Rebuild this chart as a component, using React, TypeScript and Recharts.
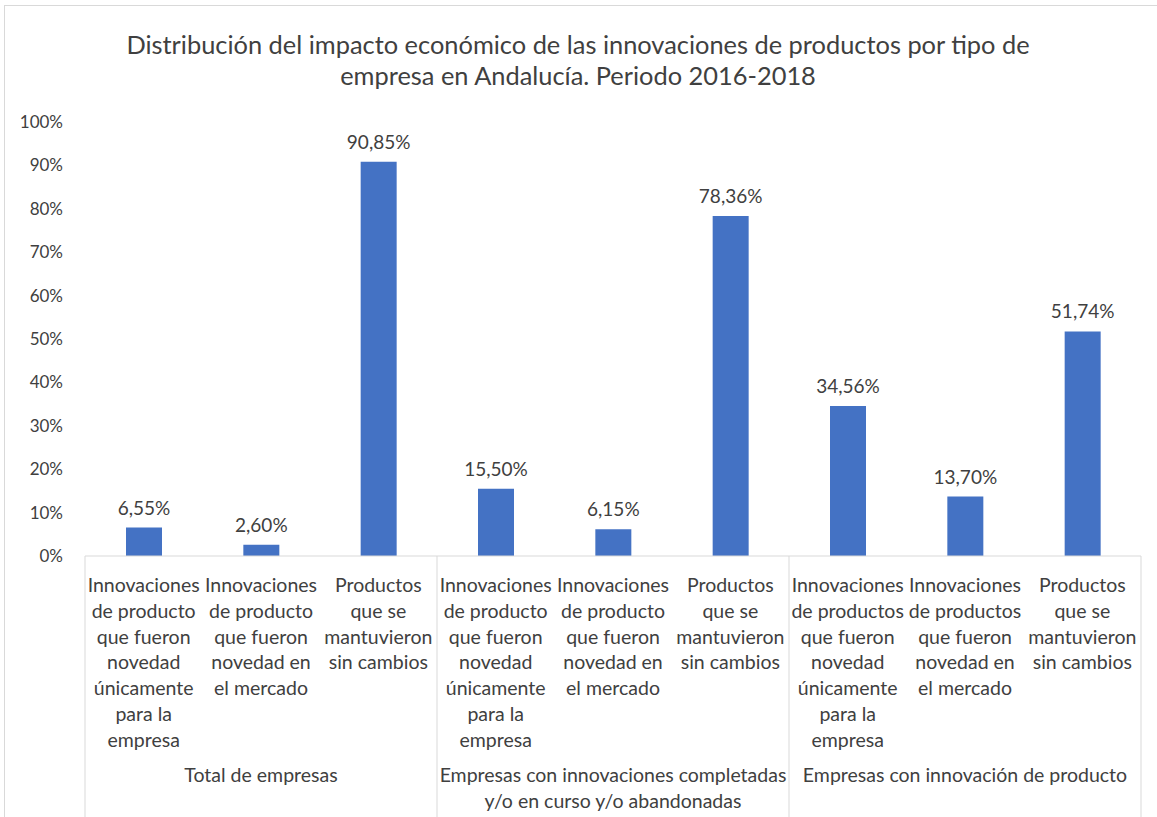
import React from "react";
import { BarChart, Bar, XAxis, YAxis, LabelList, Customized } from "recharts";

const categories = [
  "Innovaciones\nde producto\nque fueron\nnovedad\núnicamente\npara la\nempresa",
  "Innovaciones\nde producto\nque fueron\nnovedad en\nel mercado",
  "Productos\nque se\nmantuvieron\nsin cambios",
  "Innovaciones\nde producto\nque fueron\nnovedad\núnicamente\npara la\nempresa",
  "Innovaciones\nde producto\nque fueron\nnovedad en\nel mercado",
  "Productos\nque se\nmantuvieron\nsin cambios",
  "Innovaciones\nde productos\nque fueron\nnovedad\núnicamente\npara la\nempresa",
  "Innovaciones\nde productos\nque fueron\nnovedad en\nel mercado",
  "Productos\nque se\nmantuvieron\nsin cambios",
];

const groups = [
  "Total de empresas",
  "Empresas con innovaciones completadas\ny/o en curso y/o abandonadas",
  "Empresas con innovación de producto",
];

const values = [6.55, 2.6, 90.85, 15.5, 6.15, 78.36, 34.56, 13.7, 51.74];
const yTicks = [0, 10, 20, 30, 40, 50, 60, 70, 80, 90, 100];

const data = categories.map((name, i) => ({ key: i, name, value: values[i] }));

const W = 1157;
const H = 817;
const PLOT_LEFT = 85;
const PLOT_RIGHT = 1141;
const PLOT_TOP = 122;
const PLOT_BOTTOM = 556;
const FONT = "Lato, sans-serif";
const TEXT = "#404040";
const GRID = "#d9d9d9";
const CAT_FS = 19.5;
const LABEL_FS = 19;
const TICK_FS = 17;

const band = (PLOT_RIGHT - PLOT_LEFT) / categories.length;
const pct = (v: number) => v.toFixed(2).replace(".", ",") + "%";

function CategoryTick(props: any) {
  const { x, y, payload, index } = props;
  const lines = String(categories[index] ?? payload.value).split("\n");
  const inGroup = index % 3;
  const groupIdx = Math.floor(index / 3);
  return (
    <g>
      <text x={x} y={y + 28} textAnchor="middle" fill={TEXT} fontSize={CAT_FS} fontFamily={FONT}>
        {lines.map((l, i) => (
          <tspan key={i} x={x} dy={i === 0 ? 0 : 25.8}>
            {l}
          </tspan>
        ))}
      </text>
      {inGroup === 0 && (
        <line x1={x - band / 2} x2={x - band / 2} y1={PLOT_BOTTOM} y2={H} stroke={GRID} />
      )}
      {index === categories.length - 1 && (
        <line x1={x + band / 2} x2={x + band / 2} y1={PLOT_BOTTOM} y2={H} stroke={GRID} />
      )}
      {inGroup === 1 && (
        <text x={x} y={y + 218} textAnchor="middle" fill={TEXT} fontSize={CAT_FS} fontFamily={FONT}>
          {groups[groupIdx].split("\n").map((l, i) => (
            <tspan key={i} x={x} dy={i === 0 ? 0 : 25.8}>
              {l}
            </tspan>
          ))}
        </text>
      )}
    </g>
  );
}

function PercentTick(props: any) {
  const { y, payload } = props;
  return (
    <text x={63} y={y + 6} textAnchor="end" fill={TEXT} fontSize={TICK_FS} fontFamily={FONT}>
      {payload.value}%
    </text>
  );
}

export default function App() {
  return (
    <div style={{ position: "absolute", left: 0, top: 0, width: W, height: H, overflow: "hidden", background: "#fff" }}>
      <div
        style={{
          position: "absolute",
          left: 4,
          top: 5,
          width: W + 20,
          height: H + 20,
          border: `1px solid ${GRID}`,
        }}
      />
      <BarChart
        width={W}
        height={H}
        data={data}
        margin={{ top: PLOT_TOP, right: W - PLOT_RIGHT, bottom: 0, left: 0 }}
        style={{ position: "absolute", left: 0, top: 0 }}
      >
        <Customized
          component={() => (
            <text textAnchor="middle" fill={TEXT} fontSize={25.4} fontFamily={FONT}>
              <tspan x={578} y={54}>
                Distribución del impacto económico de las innovaciones de productos por tipo de
              </tspan>
              <tspan x={578} y={85}>
                empresa en Andalucía. Periodo 2016-2018
              </tspan>
            </text>
          )}
        />
        <XAxis
          dataKey="key"
          interval={0}
          height={H - PLOT_BOTTOM}
          tick={<CategoryTick />}
          tickLine={false}
          axisLine={{ stroke: GRID }}
        />
        <YAxis
          domain={[0, 100]}
          ticks={yTicks}
          width={PLOT_LEFT}
          tick={<PercentTick />}
          tickLine={false}
          axisLine={false}
        />
        <Bar dataKey="value" fill="#4472C4" barSize={36} isAnimationActive={false}>
          <LabelList
            dataKey="value"
            position="top"
            offset={13}
            formatter={(v: any) => pct(Number(v))}
            fill={TEXT}
            fontSize={LABEL_FS}
            fontFamily={FONT}
          />
        </Bar>
      </BarChart>
    </div>
  );
}
